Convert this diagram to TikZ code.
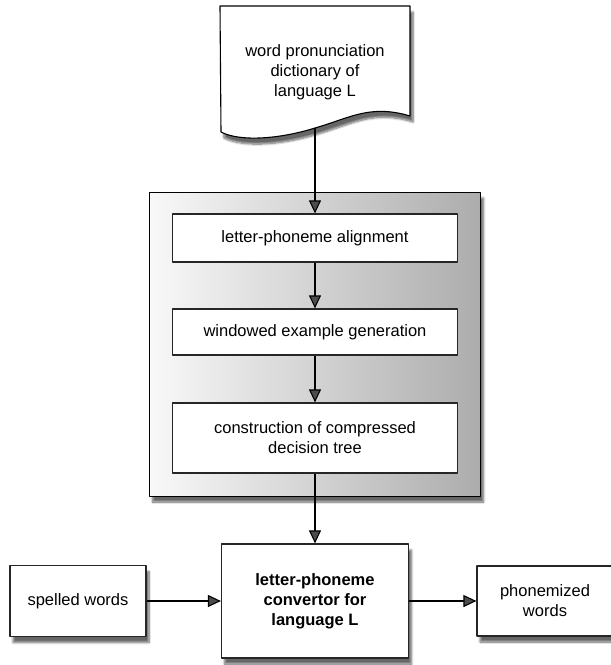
\documentclass[tikz,border=0pt]{standalone}
\usepackage{fontspec}
\setmainfont{Liberation Sans}
\usetikzlibrary{arrows.meta,shadows.blur}
\begin{document}
\begin{tikzpicture}[x=1pt,y=-1pt,>={Triangle[length=13pt,width=12pt]},line join=round,
  font=\fontsize{16.5}{20}\selectfont,
  box/.style={draw=black!85,line width=1.2pt,fill=white,align=center,inner sep=0pt},
  shade/.style={blur shadow={shadow xshift=3pt,shadow yshift=-6pt,shadow opacity=60,shadow blur steps=8}}]
\useasboundingbox (0,0) rectangle (611,665);
% dictionary
\draw[shade,fill=white,line width=1.1pt] (220,6)--(410,6)--(410,116)..controls(370,104)and(350,118)..(315,128)..controls(280,139)and(240,142)..(221,132)--cycle;
\node[align=center] (dict) at (315,72) {word pronunciation\\dictionary of\\language L};
\coordinate (foot) at (315,128);
% training
\node[shade,draw,line width=1pt,left color=gray!5,right color=gray!65,minimum width=331,minimum height=304] (train) at (315,344) {};
\node[box,minimum width=285,minimum height=48] (align) at (315,238) {letter-phoneme alignment};
\node[box,minimum width=285,minimum height=46] (window) at (315,332) {windowed example generation};
\node[box,minimum width=285,minimum height=70] (tree) at (315,438) {construction of compressed\\decision tree};
% use
\node[box,shade,minimum width=187,minimum height=114,font=\fontsize{16.5}{20}\selectfont\bfseries] (conv) at (315,601) {letter-phoneme\\convertor for\\language L};
\node[box,shade,minimum width=136,minimum height=71] (spelled) at (78,601) {spelled words};
\node[box,shade,minimum width=136,minimum height=70] (phon) at (545,601) {phonemized\\words};
\draw[->,line width=1.1pt] (foot)--(align);
\draw[->,line width=1.1pt] (align)--(window);
\draw[->,line width=1.1pt] (window)--(tree);
\draw[->,line width=1.1pt] (tree)--(conv);
\draw[->,line width=1.1pt] (spelled)--(conv);
\draw[->,line width=1.1pt] (conv)--(phon);
\end{tikzpicture}
\end{document}
